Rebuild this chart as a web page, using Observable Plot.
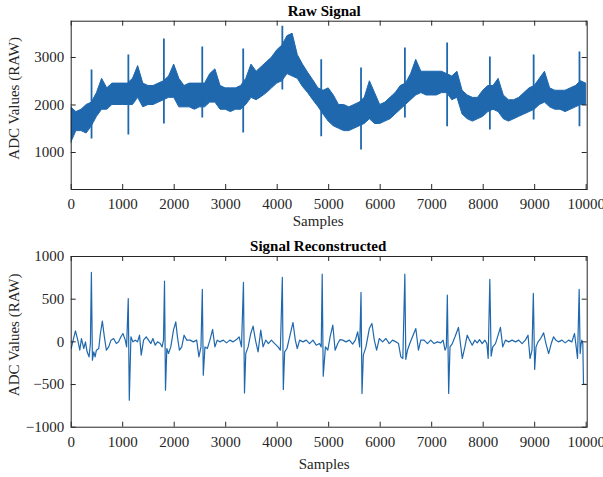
<!DOCTYPE html>
<html><head><meta charset="utf-8">
<script src="https://cdn.jsdelivr.net/npm/d3@7"></script>
<script src="https://cdn.jsdelivr.net/npm/@observablehq/plot@0.6"></script>
<style>
body{margin:0;background:#fff;}
#wrap{position:relative;width:603px;height:477px;overflow:hidden;}
#top,#bot{position:absolute;left:0;}
#top{top:0}#bot{top:238px}
</style></head><body><div id="wrap"><div id="top"></div><div id="bot"></div></div>
<script>
// ---------- data ----------
const xTicks = [0,1000,2000,3000,4000,5000,6000,7000,8000,9000,10000];
const rawYTicks = [1000,2000,3000];
const recYTicks = [-1000,-500,0,500,1000];

// Raw signal: noise band envelope every 100 samples
const rawSamples = [0,100,200,300,400,500,600,700,800,900,
 1000,1100,1200,1300,1400,1500,1600,1700,1800,1900,
 2000,2100,2200,2300,2400,2500,2600,2700,2800,2900,
 3000,3100,3200,3300,3400,3500,3600,3700,3800,3900,
 4000,4100,4200,4300,4400,4500,4600,4700,4800,4900,
 5000,5100,5200,5300,5400,5500,5600,5700,5800,5900,
 6000,6100,6200,6300,6400,6500,6600,6700,6800,6900,
 7000,7100,7200,7300,7400,7500,7600,7700,7800,7900,
 8000,8100,8200,8300,8400,8500,8600,8700,8800,8900,
 9000,9100,9200,9300,9400,9500,9600,9700,9800,9900,10000];
const rawLow = [1200,1450,1450,1400,1550,1750,1900,1900,2000,2000,
 2000,2000,2000,2150,1950,2000,2000,2050,2100,2150,
 2150,1950,1950,1950,1900,1950,1950,2050,2050,1900,
 1900,1850,1900,1900,2000,2150,2100,2170,2250,2350,
 2450,2500,2650,2600,2550,2380,2250,2100,1960,1800,
 1650,1550,1500,1450,1450,1500,1550,1600,1700,1600,
 1600,1650,1700,1800,1900,2000,2100,2200,2250,2200,
 2200,2200,2250,2250,2100,2150,1800,1700,1650,1700,
 1750,1850,1900,1850,1700,1650,1700,1750,1800,1850,
 1900,2000,2050,1950,1900,1900,1850,1900,1950,2000,2000];
const rawHigh = [1950,1850,1900,2000,2050,2250,2550,2350,2450,2450,
 2450,2450,2550,2820,2450,2400,2400,2450,2500,2600,
 2850,2550,2400,2450,2450,2450,2450,2650,2750,2400,
 2350,2350,2350,2400,2550,2850,2700,2800,2900,3000,
 3150,3250,3450,3500,3050,2850,2680,2520,2350,2300,
 2350,2200,2000,2000,1950,2000,2050,2150,2500,2250,
 2000,2050,2150,2250,2400,2450,2650,2950,2700,2700,
 2700,2700,2700,2650,2600,2700,2300,2200,2150,2150,
 2300,2400,2400,2550,2200,2100,2100,2150,2250,2350,
 2400,2550,2700,2350,2300,2300,2300,2350,2400,2500,2450];

// Raw signal: R-peak spikes (sample, lowest, highest)
const spikeSamples = [395,1110,1800,2545,3340,4100,4855,5628,6480,7300,8130,8980,9870];
const spikeLow  = [1284,1370,1600,1725,1410,2315,1330,1050,1725,1540,1475,1685,1540];
const spikeHigh = [2737,3050,3390,3220,3180,3660,2950,2780,3200,3305,3010,3050,3115];

// Reconstructed signal
const recSamples = [0,38,83,128,167,199,244,277,309,347,373,392,412,438,464,489,535,567,605,644,683,728,773,824,876,921,966,1005,1050,1076,1108,1128,1160,1198,1244,1289,1327,1360,1405,1456,1502,1547,1586,1631,1676,1728,1766,1792,1812,1831,1857,1889,1934,1986,2031,2063,2102,2147,2192,2244,2308,2372,2437,2480,2520,2546,2565,2597,2643,2694,2746,2791,2836,2887,2952,3016,3081,3145,3210,3261,3307,3345,3365,3390,3436,3487,3532,3578,3629,3681,3726,3778,3829,3887,3952,4016,4061,4100,4119,4145,4190,4242,4307,4352,4390,4436,4500,4565,4629,4694,4758,4823,4855,4874,4894,4937,4983,5028,5080,5125,5176,5221,5273,5337,5402,5466,5518,5563,5602,5628,5647,5673,5724,5789,5840,5886,5931,5982,6047,6111,6176,6240,6305,6356,6401,6440,6479,6498,6530,6575,6627,6692,6743,6788,6853,6917,6982,7046,7111,7175,7221,7259,7285,7304,7330,7356,7401,7453,7520,7594,7645,7690,7736,7787,7839,7884,7929,7981,8032,8071,8097,8129,8155,8187,8239,8290,8335,8380,8432,8497,8561,8626,8690,8755,8819,8871,8910,8948,8974,9000,9026,9065,9116,9174,9219,9271,9322,9367,9413,9464,9529,9593,9658,9722,9774,9806,9832,9864,9883,9903,9916,9935,9948,10015];
const recValues = [-78,20,129,20,-98,39,-78,0,-117,-176,-20,813,-215,-117,-176,-98,-78,98,242,59,-98,-59,20,39,-20,0,59,98,20,-59,508,-684,59,0,20,0,78,-156,20,59,20,-20,39,-39,0,-20,-59,20,711,-566,-78,-137,-59,137,234,59,-98,-59,78,20,20,0,20,-176,-59,614,-390,-59,-78,20,145,-59,20,0,20,-12,20,0,27,59,-59,696,-598,-137,-59,98,184,20,-117,137,-59,20,-20,20,-20,-59,-98,755,-558,-117,-78,59,227,20,-78,20,0,20,-20,20,-39,-20,-59,793,-402,-59,-98,59,196,-98,-20,27,20,0,20,-27,20,117,-59,579,-605,-156,-59,156,215,20,-98,39,0,39,-20,20,0,-20,-176,-195,793,-207,-98,-20,59,156,-98,20,20,-20,20,-20,0,-12,20,-98,-59,547,-605,-59,-20,59,169,-195,-59,78,20,-39,20,-12,27,-20,20,-20,-195,731,-168,-59,-20,78,169,-59,20,0,20,0,20,-20,20,78,-195,-98,567,-324,-59,0,39,105,-20,-137,-20,59,20,0,20,-12,20,0,98,-59,-195,614,-137,-20,20,-20,-496,-500];

// ---------- drawing ----------
const C = "#1f68ae";
const AX = "#262626";
const FONT = "'Liberation Serif', 'DejaVu Serif', serif";
const fmt = d => (d < 0 ? "\u2212" + Math.abs(d) : String(d));

function panel({height, mt, mb, yDomain, yTicks, title, titleDx, titleDy, xlabDx, xlabDy, marks}) {
  const W = 603, ML = 70.7, MR = 16.3;
  const ph = height - mt - mb, pw = W - ML - MR;
  return Plot.plot({
    width: W, height, marginTop: mt, marginBottom: mb, marginLeft: ML, marginRight: MR,
    style: {fontFamily: FONT, fontSize: "15px", color: AX, background: "white", overflow: "visible"},
    x: {domain: [0, 10020]},
    y: {domain: yDomain},
    marks: [
      ...marks,
      Plot.frame({stroke: AX, strokeWidth: 1}),
      Plot.ruleX(xTicks, {x: d => d, insetTop: ph - 5, stroke: AX}),
      Plot.ruleX(xTicks, {x: d => d, insetBottom: ph - 5, stroke: AX}),
      Plot.ruleY(yTicks, {y: d => d, insetRight: pw - 5, stroke: AX}),
      Plot.ruleY(yTicks, {y: d => d, insetLeft: pw - 5, stroke: AX}),
      Plot.axisX({ticks: xTicks, tickSize: 0, tickPadding: 9, tickFormat: fmt, label: null, fill: AX}),
      Plot.axisY({ticks: yTicks, tickSize: 0, tickPadding: 7, tickFormat: fmt, label: null, fill: AX}),
      Plot.text([title], {text: d => d, frameAnchor: "top", textAnchor: "middle", lineAnchor: "middle", dx: titleDx, dy: titleDy, fontWeight: "bold", fill: "#000"}),
      Plot.text(["Samples"], {text: d => d, frameAnchor: "bottom", textAnchor: "middle", lineAnchor: "middle", dx: xlabDx, dy: xlabDy, fill: AX}),
      Plot.text(["ADC Values (RAW)"], {text: d => d, frameAnchor: "left", textAnchor: "middle", lineAnchor: "middle", dx: -57, dy: -7, rotate: -90, fill: AX})
    ]
  });
}

const rawIdx = rawSamples.map((_, i) => i);
const spkIdx = spikeSamples.map((_, i) => i);
const recIdx = recSamples.map((_, i) => i);

document.getElementById("top").append(panel({
  height: 238, mt: 20.7, mb: 49, yDomain: [221, 3764], yTicks: rawYTicks,
  title: "Raw Signal", titleDx: -5, titleDy: -10.5, xlabDx: -11, xlabDy: 32,
  marks: [
    Plot.areaY(rawIdx, {x: i => rawSamples[i], y1: i => rawLow[i], y2: i => rawHigh[i], fill: C, stroke: C, strokeWidth: 1, clip: true}),
    Plot.ruleX(spkIdx, {x: i => spikeSamples[i], y1: i => spikeLow[i], y2: i => spikeHigh[i], stroke: C, strokeWidth: 1.8, clip: true})
  ]
}));

document.getElementById("bot").append(panel({
  height: 239, mt: 18, mb: 50.3, yDomain: [-1000, 1000], yTicks: recYTicks,
  title: "Signal Reconstructed", titleDx: -11, titleDy: -10.5, xlabDx: -5, xlabDy: 37,
  marks: [
    Plot.line(recIdx, {x: i => recSamples[i], y: i => recValues[i], stroke: C, strokeWidth: 1.2, clip: true})
  ]
}));
</script>
</body></html>
